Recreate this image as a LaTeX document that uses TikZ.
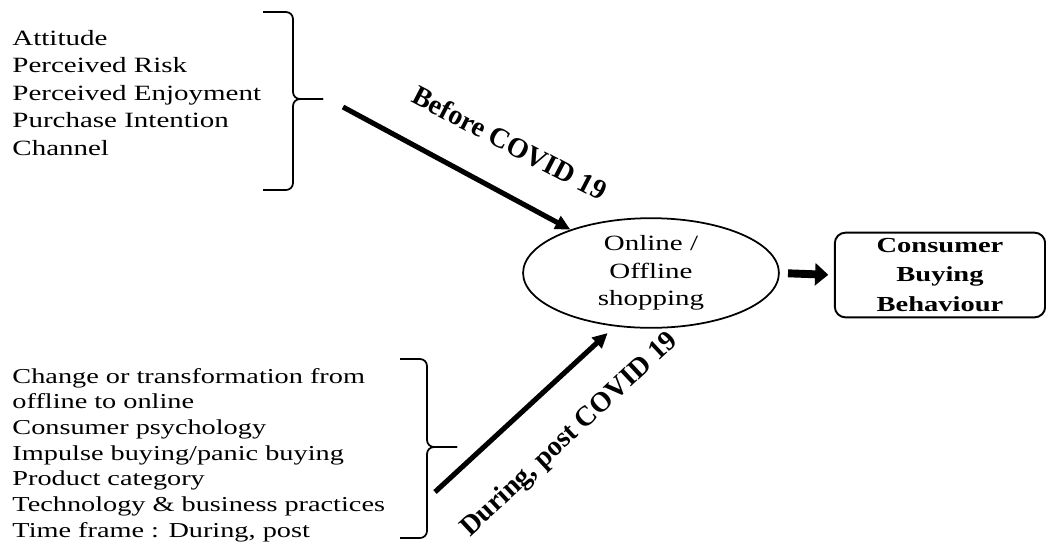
\documentclass[tikz,border=0pt]{standalone}
\usepackage{fontspec}
\setmainfont{Liberation Serif}
\usetikzlibrary{arrows.meta, shapes.geometric}

\begin{document}
\begin{tikzpicture}[x=0.02cm, y=-0.02cm,
  lst/.style={anchor=north west, align=left, inner sep=0pt, xscale=1.33},
  brc/.style={line width=1pt, rounded corners=4pt},
  big/.style={line width=2.9pt, -{Triangle[length=8.5pt, width=8pt]}},
  fat/.style={line width=4.5pt, -{Triangle[length=7.5pt, width=12.5pt]}},
  lbl/.style={inner sep=0pt, font=\fontsize{16}{18}\selectfont\bfseries}]
  \useasboundingbox (0,0) rectangle (1046,552);
  \node[lst, font=\fontsize{12.4}{15.6}\selectfont] (pretxt) at (12,30)
    {Attitude\\Perceived Risk\\Perceived Enjoyment\\Purchase Intention\\Channel};
  \node[lst, font=\fontsize{12.1}{14.6}\selectfont] (posttxt) at (12,368)
    {Change or transformation from\\offline to online\\Consumer psychology\\Impulse buying/panic buying\\Product category\\Technology \& business practices\\Time frame : During, post};
  \draw[brc] (263,12) -- (293,12) -- (293,99) -- (323,99);
  \draw[brc] (263,190) -- (293,190) -- (293,99) -- (323,99);
  \draw[brc] (400,359) -- (427,359) -- (427,447) -- (457,447);
  \draw[brc] (400,538) -- (427,538) -- (427,447) -- (457,447);
  \node[ellipse, draw, line width=1pt, inner sep=0pt, xscale=1.33, minimum width=109.5pt, minimum height=62.4pt,
    align=center, font=\fontsize{12.4}{15.6}\selectfont] (shop) at (651,273) {Online /\\Offline\\shopping};
  \node[draw, rounded corners=6pt, line width=1.1pt, inner sep=0pt, xscale=1.33, minimum width=90pt, minimum height=48.2pt,
    align=center, font=\fontsize{12.2}{17}\selectfont\bfseries] (cbb) at (940,275) {Consumer\\Buying\\Behaviour};
  \coordinate (pre) at (343,107);
  \coordinate (post) at (435,492);
  \draw[big] (pre) -- (shop);
  \draw[big, shorten >=5.5pt] (post) -- (shop.243);
  \draw[fat, shorten <=4.5pt, shorten >=3pt] (shop.east) -- (cbb.west);
  \node[lbl, rotate=-27.5] (before) at (510,143) {Before COVID 19};
  \node[lbl, rotate=43] (during) at (570,435) {During, post COVID 19};
\end{tikzpicture}
\end{document}
